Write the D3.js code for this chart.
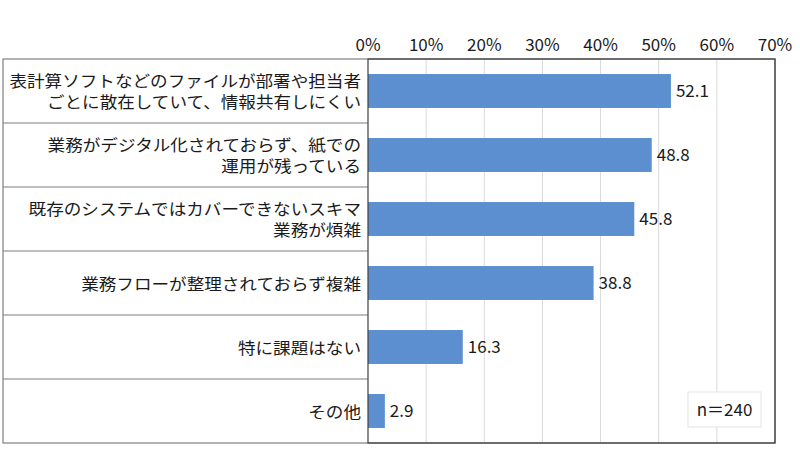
<!DOCTYPE html>
<html>
<head>
<meta charset="utf-8">
<script src="https://cdn.jsdelivr.net/npm/d3@7"></script>
<style>
  body { margin: 0; background: #fff; }
  svg { display: block; font-family: "Noto Sans CJK JP", "Noto Sans", sans-serif; }
</style>
</head>
<body>
<script>
// chart data
const categories = [
  ["表計算ソフトなどのファイルが部署や担当者", "ごとに散在していて、情報共有しにくい"],
  ["業務がデジタル化されておらず、紙での", "運用が残っている"],
  ["既存のシステムではカバーできないスキマ", "業務が煩雑"],
  ["業務フローが整理されておらず複雑"],
  ["特に課題はない"],
  ["その他"]
];
const values = [52.1, 48.8, 45.8, 38.8, 16.3, 2.9];
const tickValues = [0, 10, 20, 30, 40, 50, 60, 70];
const sampleNote = "n＝240";

const W = 800, H = 462;
const plotLeft = 368, plotRight = 775, plotTop = 59, plotBottom = 443;
const tableLeft = 3;
const labelRight = plotLeft - 7;
const labelMaxWidth = 352; // widest label line in the reference

const svg = d3.select("body").append("svg")
  .attr("width", W)
  .attr("height", H);

const x = d3.scaleLinear().domain([0, 70]).range([plotLeft, plotRight]);
const rows = d3.scaleBand().domain(d3.range(categories.length)).range([plotTop, plotBottom]);
const y = d3.scaleBand().domain(d3.range(categories.length)).range([plotTop, plotBottom]).paddingInner(0.47).paddingOuter(0.235);

// gridlines
svg.append("g")
  .selectAll("line")
  .data(tickValues.slice(1, -1))
  .join("line")
  .attr("x1", (d) => x(d))
  .attr("x2", (d) => x(d))
  .attr("y1", plotTop)
  .attr("y2", plotBottom)
  .attr("stroke", "#d9d9d9")
  .attr("stroke-width", 1);

// top axis labels
svg.append("g")
  .selectAll("text")
  .data(tickValues)
  .join("text")
  .attr("x", (d) => x(d))
  .attr("y", 51)
  .attr("text-anchor", "middle")
  .attr("font-size", "17px")
  .attr("fill", "#1a1a1a")
  .text((d) => d + "%");

// table row separators
svg.append("g")
  .selectAll("line")
  .data(d3.range(1, categories.length))
  .join("line")
  .attr("x1", tableLeft)
  .attr("x2", plotLeft)
  .attr("y1", (i) => rows(i))
  .attr("y2", (i) => rows(i))
  .attr("stroke", "#7f7f7f")
  .attr("stroke-width", 1.2);

// bars
svg.append("g")
  .selectAll("rect")
  .data(values)
  .join("rect")
  .attr("x", x(0))
  .attr("y", (d, i) => y(i))
  .attr("width", (d) => x(d) - x(0))
  .attr("height", y.bandwidth())
  .attr("fill", "#5b8fcf");

// value labels
svg.append("g")
  .selectAll("text")
  .data(values)
  .join("text")
  .attr("x", (d) => x(d) + 5)
  .attr("y", (d, i) => y(i) + y.bandwidth() / 2)
  .attr("dy", "0.36em")
  .attr("font-size", "17px")
  .attr("fill", "#1a1a1a")
  .text((d) => d.toFixed(1));

// category labels (the reference font is wider, so stretch horizontally)
const labG = svg.append("g");
const lab = labG
  .selectAll("text")
  .data(categories)
  .join("text")
  .attr("text-anchor", "end")
  .attr("font-size", "16px")
  .attr("fill", "#1a1a1a");

lab.each(function (lines, i) {
  const cy = rows(i) + rows.bandwidth() / 2 + 1;
  const lh = 21;
  d3.select(this)
    .selectAll("tspan")
    .data(lines)
    .join("tspan")
    .attr("x", labelRight)
    .attr("y", (d, k) => cy + (k - (lines.length - 1) / 2) * lh)
    .attr("dy", "0.36em")
    .text((d) => d);
});

let widest = 0;
labG.selectAll("tspan").each(function () {
  widest = Math.max(widest, this.getComputedTextLength());
});
const sx = widest > 0 ? labelMaxWidth / widest : 1;
labG.attr("transform", `translate(${labelRight},0) scale(${sx},1) translate(${-labelRight},0)`);

// outer frame: table + plot
svg.append("rect")
  .attr("x", tableLeft)
  .attr("y", plotTop)
  .attr("width", plotRight - tableLeft)
  .attr("height", plotBottom - plotTop)
  .attr("fill", "none")
  .attr("stroke", "#7f7f7f")
  .attr("stroke-width", 1.2);

// plot frame (darker)
svg.append("rect")
  .attr("x", plotLeft)
  .attr("y", plotTop)
  .attr("width", plotRight - plotLeft)
  .attr("height", plotBottom - plotTop)
  .attr("fill", "none")
  .attr("stroke", "#404040")
  .attr("stroke-width", 1.2);

// sample size box
const note = svg.append("g").attr("transform", `translate(688, 392)`);
note.append("rect")
  .attr("width", 73)
  .attr("height", 35)
  .attr("fill", "#fff")
  .attr("stroke", "#e3e3e3");
note.append("text")
  .attr("x", 36.5)
  .attr("y", 17.5)
  .attr("dy", "0.36em")
  .attr("text-anchor", "middle")
  .attr("font-size", "17px")
  .attr("fill", "#1a1a1a")
  .text(sampleNote);
</script>
</body>
</html>
